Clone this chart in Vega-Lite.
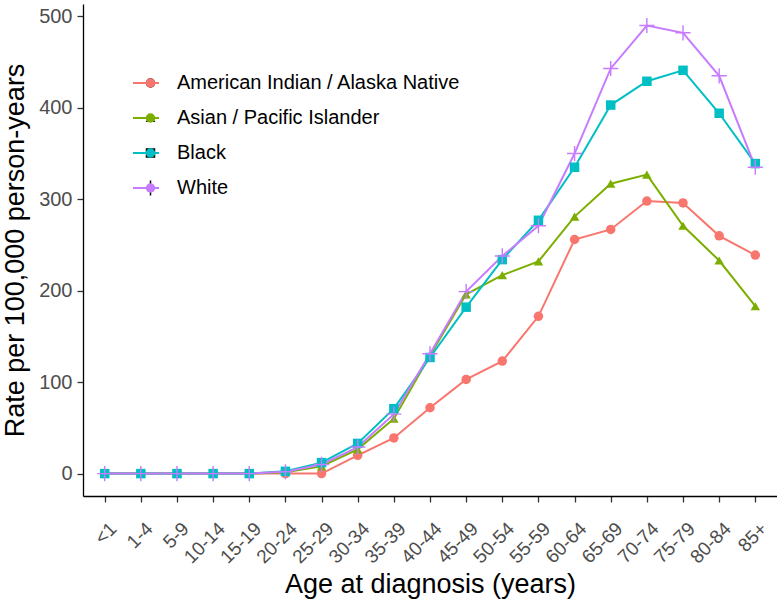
{
  "$schema": "https://vega.github.io/schema/vega-lite/v6.json",
  "width": 694,
  "height": 492,
  "autosize": {"type": "none"},
  "padding": {"left": 83, "top": 4, "right": 0, "bottom": 104},
  "background": "white",
  "config": {
    "view": {"stroke": null},
    "font": "Liberation Sans",
    "axis": {"grid": false, "domainColor": "black", "domainWidth": 1.3, "tickColor": "#333333", "tickWidth": 1.3, "tickSize": 6, "labelColor": "#4D4D4D", "titleColor": "black", "titleFontWeight": "normal", "titleFontSize": 27}
  },
  "data": {
    "values": [
      {"age": "<1", "race": "American Indian / Alaska Native", "rate": 0},
      {"age": "1-4", "race": "American Indian / Alaska Native", "rate": 0},
      {"age": "5-9", "race": "American Indian / Alaska Native", "rate": 0},
      {"age": "10-14", "race": "American Indian / Alaska Native", "rate": 0},
      {"age": "15-19", "race": "American Indian / Alaska Native", "rate": 0},
      {"age": "20-24", "race": "American Indian / Alaska Native", "rate": 0},
      {"age": "25-29", "race": "American Indian / Alaska Native", "rate": 0},
      {"age": "30-34", "race": "American Indian / Alaska Native", "rate": 20},
      {"age": "35-39", "race": "American Indian / Alaska Native", "rate": 39},
      {"age": "40-44", "race": "American Indian / Alaska Native", "rate": 72},
      {"age": "45-49", "race": "American Indian / Alaska Native", "rate": 103},
      {"age": "50-54", "race": "American Indian / Alaska Native", "rate": 123},
      {"age": "55-59", "race": "American Indian / Alaska Native", "rate": 172},
      {"age": "60-64", "race": "American Indian / Alaska Native", "rate": 256},
      {"age": "65-69", "race": "American Indian / Alaska Native", "rate": 267},
      {"age": "70-74", "race": "American Indian / Alaska Native", "rate": 298},
      {"age": "75-79", "race": "American Indian / Alaska Native", "rate": 296},
      {"age": "80-84", "race": "American Indian / Alaska Native", "rate": 260},
      {"age": "85+", "race": "American Indian / Alaska Native", "rate": 239},
      {"age": "<1", "race": "Asian / Pacific Islander", "rate": 0},
      {"age": "1-4", "race": "Asian / Pacific Islander", "rate": 0},
      {"age": "5-9", "race": "Asian / Pacific Islander", "rate": 0},
      {"age": "10-14", "race": "Asian / Pacific Islander", "rate": 0},
      {"age": "15-19", "race": "Asian / Pacific Islander", "rate": 0},
      {"age": "20-24", "race": "Asian / Pacific Islander", "rate": 1.5},
      {"age": "25-29", "race": "Asian / Pacific Islander", "rate": 8},
      {"age": "30-34", "race": "Asian / Pacific Islander", "rate": 26.5},
      {"age": "35-39", "race": "Asian / Pacific Islander", "rate": 60},
      {"age": "40-44", "race": "Asian / Pacific Islander", "rate": 129},
      {"age": "45-49", "race": "Asian / Pacific Islander", "rate": 196},
      {"age": "50-54", "race": "Asian / Pacific Islander", "rate": 217},
      {"age": "55-59", "race": "Asian / Pacific Islander", "rate": 232},
      {"age": "60-64", "race": "Asian / Pacific Islander", "rate": 281},
      {"age": "65-69", "race": "Asian / Pacific Islander", "rate": 317},
      {"age": "70-74", "race": "Asian / Pacific Islander", "rate": 327},
      {"age": "75-79", "race": "Asian / Pacific Islander", "rate": 271},
      {"age": "80-84", "race": "Asian / Pacific Islander", "rate": 233},
      {"age": "85+", "race": "Asian / Pacific Islander", "rate": 183},
      {"age": "<1", "race": "Black", "rate": 0},
      {"age": "1-4", "race": "Black", "rate": 0},
      {"age": "5-9", "race": "Black", "rate": 0},
      {"age": "10-14", "race": "Black", "rate": 0},
      {"age": "15-19", "race": "Black", "rate": 0},
      {"age": "20-24", "race": "Black", "rate": 2.5},
      {"age": "25-29", "race": "Black", "rate": 12},
      {"age": "30-34", "race": "Black", "rate": 33},
      {"age": "35-39", "race": "Black", "rate": 71},
      {"age": "40-44", "race": "Black", "rate": 127},
      {"age": "45-49", "race": "Black", "rate": 182},
      {"age": "50-54", "race": "Black", "rate": 234},
      {"age": "55-59", "race": "Black", "rate": 277},
      {"age": "60-64", "race": "Black", "rate": 335},
      {"age": "65-69", "race": "Black", "rate": 403},
      {"age": "70-74", "race": "Black", "rate": 429},
      {"age": "75-79", "race": "Black", "rate": 441},
      {"age": "80-84", "race": "Black", "rate": 394},
      {"age": "85+", "race": "Black", "rate": 339},
      {"age": "<1", "race": "White", "rate": 0},
      {"age": "1-4", "race": "White", "rate": 0},
      {"age": "5-9", "race": "White", "rate": 0},
      {"age": "10-14", "race": "White", "rate": 0},
      {"age": "15-19", "race": "White", "rate": 0},
      {"age": "20-24", "race": "White", "rate": 2},
      {"age": "25-29", "race": "White", "rate": 10},
      {"age": "30-34", "race": "White", "rate": 29},
      {"age": "35-39", "race": "White", "rate": 65},
      {"age": "40-44", "race": "White", "rate": 131},
      {"age": "45-49", "race": "White", "rate": 199},
      {"age": "50-54", "race": "White", "rate": 238},
      {"age": "55-59", "race": "White", "rate": 271},
      {"age": "60-64", "race": "White", "rate": 350},
      {"age": "65-69", "race": "White", "rate": 443},
      {"age": "70-74", "race": "White", "rate": 490},
      {"age": "75-79", "race": "White", "rate": 482},
      {"age": "80-84", "race": "White", "rate": 435},
      {"age": "85+", "race": "White", "rate": 335}
    ]
  },
  "encoding": {
    "x": {
      "field": "age", "type": "ordinal",
      "sort": ["<1","1-4","5-9","10-14","15-19","20-24","25-29","30-34","35-39","40-44","45-49","50-54","55-59","60-64","65-69","70-74","75-79","80-84","85+"],
      "scale": {"type": "point", "padding": 0.6},
      "axis": {"title": "Age at diagnosis (years)", "labelAngle": -45, "labelAlign": "right", "labelBaseline": "top", "labelFontSize": 19, "labelPadding": 17, "labelOffset": 2, "titlePadding": 5}
    },
    "y": {
      "field": "rate", "type": "quantitative",
      "scale": {"domain": [-24.5, 513.5], "nice": false, "zero": false},
      "axis": {"title": "Rate per 100,000 person-years", "values": [0, 100, 200, 300, 400, 500], "labelFontSize": 20, "labelPadding": 5, "titlePadding": 9}
    }
  },
  "layer": [
    {
      "mark": {"type": "line", "strokeWidth": 2},
      "encoding": {
        "color": {
          "field": "race", "type": "nominal",
          "scale": {"domain": ["American Indian / Alaska Native", "Asian / Pacific Islander", "Black", "White"], "range": ["#F8766D", "#7CAE00", "#00BFC4", "#C77CFF"]},
          "legend": {"orient": "none", "legendX": 49, "legendY": 69, "title": null, "symbolType": "stroke", "symbolSize": 676, "symbolStrokeWidth": 2, "labelFontSize": 20, "labelColor": "black", "labelLimit": 500, "labelOffset": 17, "clipHeight": 20, "rowPadding": 15, "padding": 0}
        }
      }
    },
    {
      "mark": {"type": "point", "filled": true, "opacity": 1, "size": 90},
      "encoding": {
        "color": {
          "field": "race", "type": "nominal",
          "legend": {"orient": "none", "legendX": 57.5, "legendY": 69, "title": null, "symbolSize": 90, "symbolOpacity": 1, "labelExpr": "''", "labelFontSize": 20, "clipHeight": 20, "rowPadding": 15, "padding": 0}
        },
        "shape": {
          "field": "race", "type": "nominal",
          "scale": {"domain": ["American Indian / Alaska Native", "Asian / Pacific Islander", "Black", "White"], "range": ["circle", "triangle-up", "square", "M-1.6,-0.15H-0.15V-1.6H0.15V-0.15H1.6V0.15H0.15V1.6H-0.15V0.15H-1.6Z"]},
          "legend": {"orient": "none", "legendX": 57.5, "legendY": 69, "title": null, "symbolSize": 90, "symbolOpacity": 1, "labelExpr": "''", "labelFontSize": 20, "clipHeight": 20, "rowPadding": 15, "padding": 0}
        }
      }
    }
  ],
  "resolve": {"legend": {"color": "independent"}}
}
